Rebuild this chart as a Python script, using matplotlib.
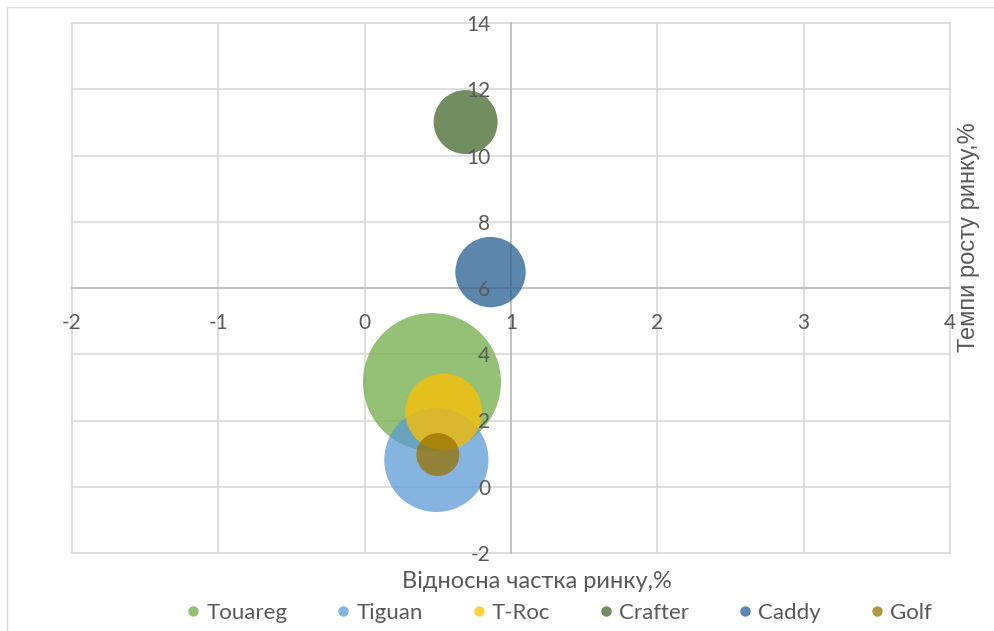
import matplotlib
matplotlib.use("Agg")
import matplotlib.pyplot as plt
from matplotlib.lines import Line2D
from matplotlib.patches import Rectangle
import numpy as np

plt.rcParams["axes.unicode_minus"] = False

# ---- data ----
models = ["Touareg", "Tiguan", "T-Roc", "Crafter", "Caddy", "Golf"]
rel_share = [0.46, 0.49, 0.54, 0.69, 0.86, 0.50]      # x: relative market share
growth = [3.16, 0.81, 2.26, 11.01, 6.48, 0.97]         # y: market growth rate
bubble_size = [100, 57, 31, 21.5, 26, 9.7]            # bubble sizes (area)
x_ticks = [-2, -1, 0, 1, 2, 3, 4]
y_ticks = [-2, 0, 2, 4, 6, 8, 10, 12, 14]

colors = ["#70AD47", "#5B9BD5", "#FFC000", "#43682B", "#255E91", "#997300"]
legend_colors = ["#94C275", "#84B4E0", "#FFD040", "#728E60", "#5C86AD", "#B39640"]

DPI = 100
W, H = 995, 631
fig = plt.figure(figsize=(W / DPI, H / DPI), dpi=DPI)
fig.patch.set_facecolor("white")

# chart area border
fig.add_artist(Rectangle((7 / W, -0.05), 1.2, (631 - 7) / H + 0.05, transform=fig.transFigure,
                         fill=False, edgecolor="#D9D9D9", linewidth=1.0))

L, R, T, B = 72, 950, 23, 553
ax = fig.add_axes([L / W, (H - B) / H, (R - L) / W, (B - T) / H])
ax.set_xlim(-2, 4)
ax.set_ylim(-2, 14)
ax.set_xticks(x_ticks)
ax.set_yticks(y_ticks)

grid_c = "#D9D9D9"
for xv in x_ticks:
    ax.axvline(xv, color=grid_c, lw=1.2, zorder=0, clip_on=False)
for yv in y_ticks:
    ax.axhline(yv, color=grid_c, lw=1.2, zorder=0, clip_on=False)

for s in ["top", "right"]:
    ax.spines[s].set_visible(False)
ax.spines["left"].set_position(("data", 1))
ax.spines["bottom"].set_position(("data", 6))
for s in ["left", "bottom"]:
    ax.spines[s].set_color("#BFBFBF")
    ax.spines[s].set_linewidth(1.3)
    ax.spines[s].set_zorder(0.5)

fam = ["Lato", "Open Sans", "DejaVu Sans"]
tick_c = "#595959"
ax.tick_params(axis="both", length=0, labelcolor=tick_c, labelsize=15)
ax.tick_params(axis="x", pad=18)
ax.tick_params(axis="y", pad=15)
for lab in ax.get_xticklabels() + ax.get_yticklabels():
    lab.set_family(fam)
ax.xaxis.set_zorder(5)
ax.yaxis.set_zorder(5)

# bubbles: largest radius ~69 px
rmax_px = 69
for i in range(len(models)):
    r_px = rmax_px * np.sqrt(bubble_size[i] / max(bubble_size))
    d_pt = 2 * r_px * 72 / DPI
    ax.scatter([rel_share[i]], [growth[i]], s=d_pt ** 2, color=colors[i], alpha=0.75,
               edgecolors="none", zorder=2, clip_on=False)

fig.text(537 / W, 1 - 581 / H, "Відносна частка ринку,%", ha="center", va="center",
         fontsize=17, color=tick_c, family=fam)
fig.text(969 / W, 1 - 237 / H, "Темпи росту ринку,%", ha="center", va="center",
         rotation=90, fontsize=17, color=tick_c, family=["Liberation Sans", "DejaVu Sans"])

handles = [Line2D([], [], marker="o", linestyle="none", markersize=7.5,
                  markerfacecolor=c, markeredgecolor="none") for c in legend_colors]
leg = fig.legend(handles, models, loc="center", bbox_to_anchor=(557 / W, 1 - 613 / H),
                 ncol=6, frameon=False, handletextpad=0.1, columnspacing=2.0,
                 handlelength=1.0, prop={"family": fam, "size": 16})
for t in leg.get_texts():
    t.set_color(tick_c)

fig.savefig("out.png", dpi=DPI)
